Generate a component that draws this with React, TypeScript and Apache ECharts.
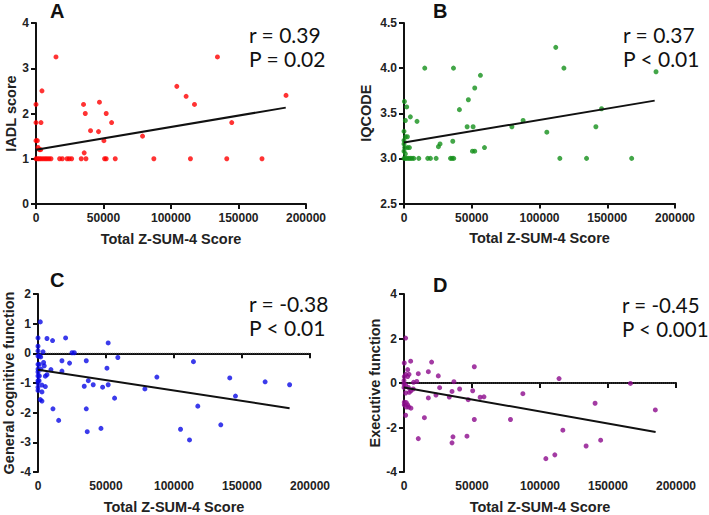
import React, { useEffect, useRef } from "react";
import * as echarts from "echarts";

const xTicks = [0, 50000, 100000, 150000, 200000];
const panelLetters = ["A", "B", "C", "D"];
const xName = "Total Z-SUM-4 Score";
const yNames = ["IADL score", "IQCODE", "General cognitive function", "Executive function"];
const statR = ["r = 0.39", "r = 0.37", "r = -0.38", "r = -0.45"];
const statP = ["P = 0.02", "P < 0.01", "P < 0.01", "P < 0.001"];
const yMin = [0, 2.5, -4, -4];
const yMax = [4, 4.5, 2, 4];
const yInterval = [1, 0.5, 1, 2];
const yDecimals = [0, 1, 0, 0];
const colors = ["#ff0000", "#14901a", "#0a0ae6", "#8c0a8c"];
const showZeroLine = [false, false, true, true];

const iadl: [number, number][] = [
  [0, 1], [1200, 1], [2400, 1], [3700, 1], [5200, 1], [6700, 1], [8100, 1], [9600, 1], [11100, 1],
  [17500, 1], [19500, 1], [23000, 1], [24600, 1], [26400, 1], [33500, 1], [37000, 1], [50800, 1],
  [52000, 1], [58700, 1], [87300, 1], [114400, 1], [141300, 1], [167400, 1],
  [0, 1.4], [1000, 1.4], [1500, 1.25], [2500, 1.2], [3500, 1.2], [0, 1.8], [3700, 1.8], [0, 2.2],
  [4400, 2.5], [14800, 3.25], [35200, 2.2], [36500, 2.0], [47000, 2.25], [52000, 2.0], [56000, 1.8],
  [40400, 1.62], [46300, 1.6], [50300, 1.4], [35700, 1.13], [78900, 1.5], [104300, 2.6],
  [111200, 2.38], [117400, 2.2], [134400, 3.25], [145000, 1.8], [185200, 2.4],
];

const iqcode: [number, number][] = [
  [300, 3.63], [2000, 3.57], [4700, 3.46], [9600, 3.41], [1000, 3.42], [0, 3.3], [1000, 3.24],
  [2500, 3.24], [0, 3.2], [0, 3.16], [500, 3.12], [2500, 3.12], [4000, 3.12], [0, 3.08], [1000, 3.05],
  [0, 3.0], [1000, 3.0], [2200, 3.0], [3500, 3.0], [4700, 3.0], [5900, 3.0], [7200, 3.0], [10900, 3.0],
  [17500, 3.0], [19500, 3.0], [23700, 3.0], [34300, 3.0], [35500, 3.0], [36700, 3.0],
  [25400, 3.13], [26600, 3.16], [36000, 3.19], [15300, 4.0], [36500, 4.0], [112000, 4.23],
  [118000, 4.0], [186000, 3.96], [56400, 3.92], [52200, 3.78], [47500, 3.65], [40900, 3.54],
  [46600, 3.35], [51000, 3.35], [50500, 3.08], [52200, 3.08], [59400, 3.12], [79600, 3.35],
  [87900, 3.42], [105400, 3.29], [115000, 3.0], [134700, 3.0], [141600, 3.35], [145800, 3.55],
  [168000, 3.0],
];

const generalCog: [number, number][] = [
  [1700, 1.06], [0, 0.52], [6600, 0.5], [10700, 0.43], [20300, 0.52], [51600, 0.35], [0, 0.24],
  [0, 0.08], [3700, 0.05], [25000, 0.02], [26700, 0.02], [0, -0.09], [1000, -0.09], [2000, -0.12],
  [4100, -0.31], [17600, -0.25], [23200, -0.33], [35500, -0.25], [58700, -0.14], [114300, -0.28],
  [4600, -0.42], [0, -0.37], [1000, -0.37], [0, -0.53], [2200, -0.53], [0, -0.63], [6600, -0.72],
  [9500, -0.55], [17600, -0.6], [0, -0.76], [1000, -0.76], [5400, -0.77], [0, -0.92], [800, -0.92],
  [0, -1.0], [2900, -1.07], [0, -1.14], [5400, -1.12], [0, -1.25], [2900, -1.3], [1700, -1.56],
  [2900, -1.61], [50700, -0.5], [87400, -0.8], [141000, -0.83], [167000, -0.96], [185000, -1.06],
  [37000, -0.92], [34000, -1.11], [40600, -1.06], [47500, -1.14], [51600, -1.06], [78600, -1.2],
  [56300, -1.51], [145200, -1.44], [117500, -1.78], [11000, -1.87], [35500, -1.87], [15200, -2.26],
  [46300, -2.53], [104800, -2.56], [134400, -2.41], [36200, -2.64], [111400, -2.92],
];

const executive: [number, number][] = [
  [1200, 2.02], [200, 0.9], [4900, 0.98], [20300, 0.94], [51700, 0.73], [2700, 0.6], [1200, 0.39],
  [3700, 0.39], [200, 0.29], [2700, 0.29], [10500, 0.42], [17900, 0.51], [25200, 0.32], [0, 0.1],
  [7000, 0.03], [9400, 0.07], [0, -0.05], [1200, -0.1], [0, -0.2], [3200, -0.2], [5100, -0.35],
  [3900, -0.42], [1200, -0.45], [6800, -0.27], [200, -0.86], [1700, -0.88], [200, -0.98],
  [2700, -0.98], [1700, -1.08], [3400, -1.08], [5100, -1.13], [1200, -1.45], [15000, -1.56],
  [17900, -0.67], [23500, -0.54], [26200, -0.21], [114000, 0.2], [166500, -0.02], [36700, 0.06],
  [40900, -0.27], [35300, -0.38], [50500, -0.35], [33300, -0.63], [56000, -0.64], [58800, -0.62],
  [87400, -0.48], [47200, -0.75], [140500, -0.91], [184800, -1.21], [78300, -1.64], [51700, -1.64],
  [116800, -2.12], [10500, -2.5], [46300, -2.39], [36000, -2.42], [35300, -2.69], [144600, -2.57],
  [133900, -2.83], [110900, -3.23], [104300, -3.4],
];

const panelData = [iadl, iqcode, generalCog, executive];
const fitStart = [1.2, 3.175, -0.55, -0.2];
const fitEnd = [2.13, 3.64, -1.85, -2.2];
const fitXMax = 185000;

const FONT = "'Liberation Sans', Arial, sans-serif";

const grids = [
  { left: 36, top: 23, width: 270, height: 181 },
  { left: 404, top: 23, width: 271, height: 180.5 },
  { left: 38, top: 294, width: 272, height: 180 },
  { left: 404, top: 294, width: 272, height: 180 },
];
const yNameGap = [16, 31, 18, 20];
const letterPos = [
  { left: 50, top: 1 },
  { left: 433, top: 1 },
  { left: 50, top: 270 },
  { left: 433, top: 275 },
];
const statPos = [
  { left: 249, top: 22 },
  { left: 623, top: 22 },
  { left: 249, top: 291 },
  { left: 622, top: 293 },
];
const statSize = [21, 21, 21, 20.5];

export default function App() {
  const ref = useRef<HTMLDivElement>(null);
  useEffect(() => {
    if (!ref.current) return;
    const chart = echarts.init(ref.current, null, { renderer: "svg" });
    const axisLine = { show: true, lineStyle: { color: "#111", width: 2 } };
    const axisTick = { show: true, length: 5, lineStyle: { color: "#111", width: 2 } };
    const xAxis = grids.map((_, i) => ({
      type: "value",
      gridIndex: i,
      min: xTicks[0],
      max: xTicks[xTicks.length - 1],
      interval: xTicks[1] - xTicks[0],
      name: xName,
      nameLocation: "middle",
      nameGap: 27,
      nameTextStyle: { fontFamily: FONT, fontWeight: "bold", fontSize: 14.5, color: "#222" },
      axisLine,
      axisTick,
      splitLine: { show: false },
      axisLabel: {
        fontFamily: FONT,
        fontWeight: "bold",
        fontSize: 12,
        color: "#222",
        margin: 8,
        formatter: (v: number) => String(v),
      },
    }));
    const yAxis = grids.map((_, i) => ({
      type: "value",
      gridIndex: i,
      min: yMin[i],
      max: yMax[i],
      interval: yInterval[i],
      name: yNames[i],
      nameLocation: "middle",
      nameGap: yNameGap[i],
      nameTextStyle: { fontFamily: FONT, fontWeight: "bold", fontSize: 14.5, color: "#222" },
      axisLine,
      axisTick,
      splitLine: { show: false },
      axisLabel: {
        fontFamily: FONT,
        fontWeight: "bold",
        fontSize: 12,
        color: "#222",
        margin: 7,
        formatter: (v: number) => v.toFixed(yDecimals[i]),
      },
    }));
    const series: any[] = [];
    panelData.forEach((d, i) => {
      if (showZeroLine[i]) {
        series.push({
          type: "line",
          xAxisIndex: i,
          yAxisIndex: i,
          data: [[xTicks[0], 0], [xTicks[xTicks.length - 1], 0]],
          symbol: "none",
          lineStyle: { color: "#444", width: 1, type: "dotted" },
          z: 1,
        });
      }
      series.push({
        type: "scatter",
        xAxisIndex: i,
        yAxisIndex: i,
        data: d,
        symbol: "circle",
        symbolSize: 5,
        itemStyle: { color: colors[i] },
        z: 2,
      });
      series.push({
        type: "line",
        xAxisIndex: i,
        yAxisIndex: i,
        data: [[0, fitStart[i]], [fitXMax, fitEnd[i]]],
        symbol: "none",
        lineStyle: { color: "#111", width: 2 },
        z: 3,
      });
    });
    const graphic: any[] = [];
    panelLetters.forEach((l, i) => {
      graphic.push({
        type: "text",
        left: letterPos[i].left,
        top: letterPos[i].top,
        style: { text: l, font: `bold 20px ${FONT}`, fill: "#111" },
      });
      graphic.push({
        type: "text",
        left: statPos[i].left,
        top: statPos[i].top,
        style: {
          text: statR[i] + "\n" + statP[i],
          font: `${statSize[i]}px Lato, sans-serif`,
          lineHeight: 24,
          fill: "#111",
        },
      });
    });
    chart.setOption({
      animation: false,
      backgroundColor: "#fff",
      grid: grids.map((g) => ({ ...g, containLabel: false })),
      xAxis,
      yAxis,
      series,
      graphic,
    });
    return () => chart.dispose();
  }, []);
  return (
    <div
      ref={ref}
      style={{ position: "fixed", left: 0, top: 0, width: 709, height: 515, background: "#fff" }}
    />
  );
}
